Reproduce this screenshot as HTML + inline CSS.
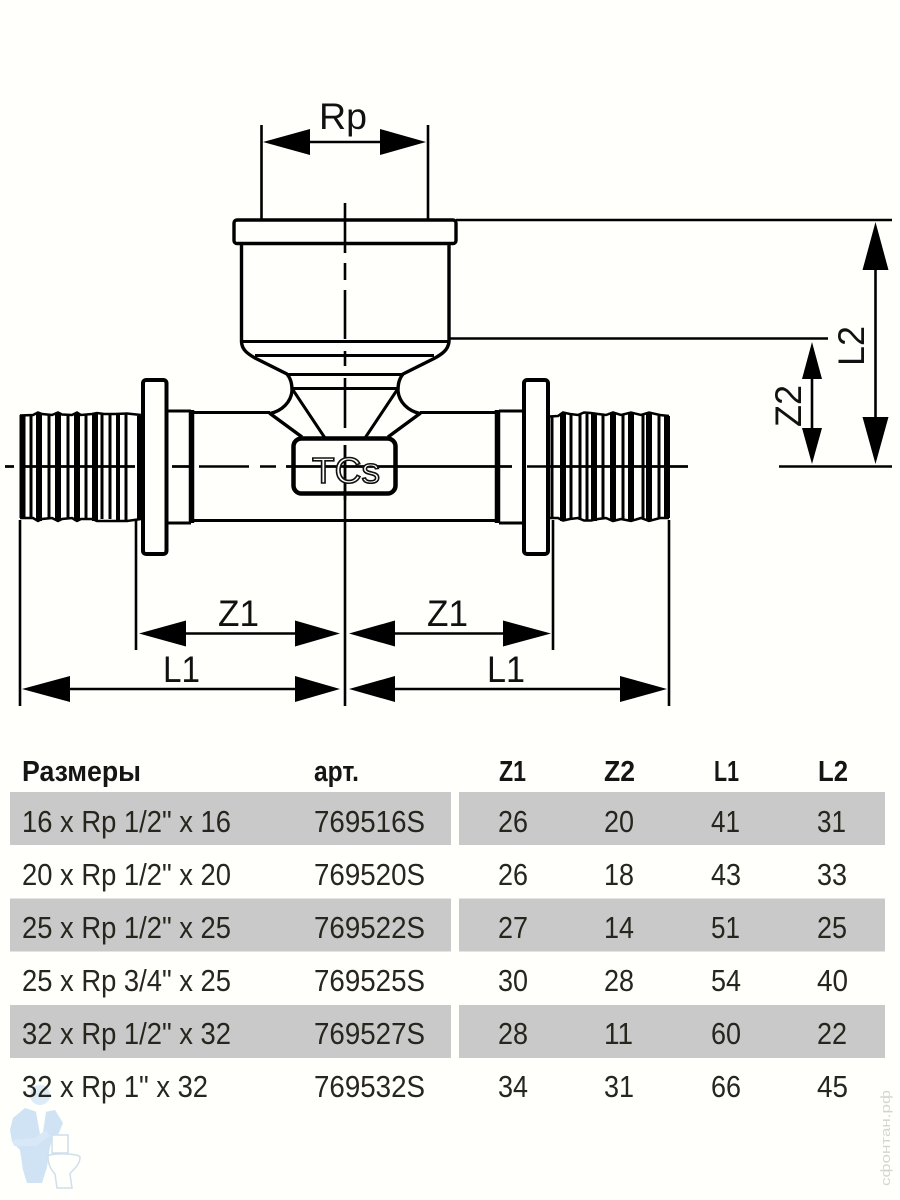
<!DOCTYPE html>
<html><head><meta charset="utf-8"><style>
html,body{margin:0;padding:0;background:#fffffc}
svg{display:block}
text{font-family:"Liberation Sans",sans-serif}
.d{font-size:37px;fill:#111}
.r{font-size:31px;fill:#26261e}
.h{font-size:29px;font-weight:bold;fill:#151515}
</style></head><body>
<svg width="900" height="1200" viewBox="0 0 900 1200" xmlns="http://www.w3.org/2000/svg">
<rect width="900" height="1200" fill="#fffffc"/>

<!-- centre lines -->
<g stroke="#000" stroke-width="2.6" fill="none">
<path d="M345 203V253M345 263V280M345 290V339M345 351V366M345 378V428M345 445V706"/>
<path d="M5 466.500H14M24 466.500H135M172 466.500H192M199 466.500H249M260 466.500H276M286 466.500H512M527 466.500H688"/>
</g>

<!-- top socket -->
<g stroke="#000" fill="none" stroke-linejoin="round">
<rect x="234" y="220" width="222" height="23.500" rx="3" stroke-width="3.400"/>
<path d="M241.500 244V342C242 350 248 354 255 358L287 374C291 379 292 384 292 391C291 402 282 411 270 413.500L302 437M449 244V342C448 350 442 354 435 358L403 374C399 379 398 384 398 391C399 402 408 411 420 413.500L388 437" stroke-width="3.400"/>
<path d="M241.500 341.500H449M255 355.500H434M287 374.500H404M293 388.500H397" stroke-width="3"/>
<path d="M293 390L325 438M397 390L365 438" stroke-width="3"/>
<!-- body -->
<path d="M193 412.500H270M420 412.500H497M193 520.500H497" stroke-width="3"/>
<path d="M191.500 410V523M497.500 410V523" stroke-width="5.500"/>
<!-- collars -->
<path d="M167 411H191M167 523H191M499 411H523M499 523H523" stroke-width="3"/>
<!-- flanges -->
<rect x="143" y="380" width="23.500" height="174" rx="3" stroke-width="4" fill="#fffffc"/>
<rect x="524" y="380" width="24" height="174" rx="3" stroke-width="4" fill="#fffffc"/>
<!-- TCs box -->
<rect x="293.500" y="438.500" width="102" height="55" rx="8" stroke-width="4.500" fill="none"/>
</g>
<path d="M5 466.500H14M24 466.500H135M172 466.500H192M286 466.500H512M527 466.500H688M345 445V500" stroke="#000" stroke-width="2.600" fill="none"/>
<text x="312" y="483" font-size="36" fill="#fffffc" stroke="#111" stroke-width="1.600" textLength="68" lengthAdjust="spacingAndGlyphs">TCs</text>

<!-- left threads -->
<g stroke="#000" fill="none">
<path d="M22.500 415V518" stroke-width="6"/>
<path d="M31 415V518M49 414V518M68 414V518M86 414V518M102 414V519M110 414V519M126 414V520" stroke-width="3"/>
<path d="M39 413V521M58 413V521M77 413V521M95 413V521" stroke-width="6"/>
<path d="M118 413V521" stroke-width="4"/>
<path d="M20 415.500L33 415L38 412.500L42 414L52 415L58 412.500L62 414.500L72 415L77 412.500L81 415L92 414L97 413L104 414H115L127 413.500L141 415M20 518H33L38 521L42 519L52 518L58 521L62 519L72 518L77 521L81 519L92 519L97 521H104L116 521H127L141 519" stroke-width="2.500"/>
<path d="M139 416V520" stroke-width="4"/>
<!-- right threads -->
<path d="M552 416V518M571 414V520M580 414V520M587 414V520M603 415V518M623 414V519M643 414V519M659 415V518" stroke-width="3"/>
<path d="M563 413V521M594 413V521M613 413V521M631 413V521M649 413V521M667 416V518" stroke-width="6"/>
<path d="M549 416.500L558 416L563 412.500L570 414L578 415L584 412.500L591 413L598 414L606 415L613 412.500L621 415L631 412.500L641 415L649 412.500L660 415L669 416M549 518H558L563 520.500L570 519L578 518L584 520.500H591L598 519L606 518L613 521L621 519L631 521L641 518L649 521L660 518H669" stroke-width="2.500"/>
</g>

<!-- dimension lines -->
<g stroke="#000" stroke-width="2.600" fill="none">
<path d="M261.500 125V220M428 125V220M310 142H380"/>
<path d="M456 220H892M449 338.500H828M779 466.500H892M875.500 270V417M812 379V428"/>
<path d="M20 520V706M136 520V650M553 520V650M669 520V706"/>
<path d="M186 633.500H295M395 633.500H503M70 689H295M395 689H620"/>
</g>
<g fill="#000">
<path d="M263 142L310 129V155ZM426 142L380 129V155Z"/>
<path d="M875.500 222L862.500 270H888.500ZM875.500 464L862.500 417H888.500Z"/>
<path d="M812 342L802 379H822ZM812 464L802 428H822Z"/>
<path d="M139 633.500L186 620.500V646.500ZM340 633.500L295 620.500V646.500ZM349 633.500L395 620.500V646.500ZM551 633.500L503 620.500V646.500Z"/>
<path d="M22 689L70 676V702ZM340 689L295 676V702ZM349 689L395 676V702ZM667 689L620 676V702Z"/>
</g>

<!-- dimension labels -->
<text class="d" x="319" y="129" textLength="48" lengthAdjust="spacingAndGlyphs">Rp</text>
<text class="d" x="218" y="626" textLength="41" lengthAdjust="spacingAndGlyphs">Z1</text>
<text class="d" x="427" y="626" textLength="41" lengthAdjust="spacingAndGlyphs">Z1</text>
<text class="d" x="163" y="682" textLength="37" lengthAdjust="spacingAndGlyphs">L1</text>
<text class="d" x="487" y="682" textLength="38" lengthAdjust="spacingAndGlyphs">L1</text>
<text class="d" transform="translate(864 366) rotate(-90)" textLength="40" lengthAdjust="spacingAndGlyphs">L2</text>
<text class="d" transform="translate(801 427) rotate(-90)" textLength="42" lengthAdjust="spacingAndGlyphs">Z2</text>

<!-- table bands -->
<g fill="#c9c9c9">
<rect x="10" y="792" width="441" height="53"/><rect x="459" y="792" width="426" height="53"/>
<rect x="10" y="898.500" width="441" height="53"/><rect x="459" y="898.500" width="426" height="53"/>
<rect x="10" y="1005" width="441" height="53"/><rect x="459" y="1005" width="426" height="53"/>
</g>

<!-- mascot -->
<g fill="#cfe3f4">
<circle cx="40" cy="1095" r="10" fill="#dcebf7"/>
<path d="M25 1108L40 1113L55 1110L63 1123L58 1135L52 1140L50 1147L47 1167L42 1183H27L23 1170L20 1150L12 1142L10 1130L13 1118Z"/>
<path d="M12 1140L34 1138L46 1130L50 1136L36 1146L14 1146Z" fill="#d9e8f6"/>
</g>
<path d="M36 1112L46 1112L43 1132L40 1134Z" fill="#fffffc"/>
<g fill="#fffffc" stroke="#cfdfec" stroke-width="1.500">
<path d="M52 1135H68L68 1153H52Z"/>
<path d="M48 1156C50 1153 78 1153 80 1157C80 1166 72 1170 70 1174L72 1188H57L55 1174C51 1170 48 1164 48 1156Z"/>
</g>

<!-- table header -->
<text class="h" x="22" y="781" textLength="119" lengthAdjust="spacingAndGlyphs">Размеры</text>
<text class="h" x="314" y="781" textLength="45" lengthAdjust="spacingAndGlyphs">арт.</text>
<text class="h" x="499" y="781" textLength="27" lengthAdjust="spacingAndGlyphs">Z1</text>
<text class="h" x="604" y="781" textLength="31" lengthAdjust="spacingAndGlyphs">Z2</text>
<text class="h" x="714" y="781" textLength="25" lengthAdjust="spacingAndGlyphs">L1</text>
<text class="h" x="818" y="781" textLength="30" lengthAdjust="spacingAndGlyphs">L2</text>

<!-- rows -->
<g>
<text class="r" x="22" y="832" textLength="209" lengthAdjust="spacingAndGlyphs">16 x Rp 1/2" x 16</text>
<text class="r" x="314" y="832" textLength="111" lengthAdjust="spacingAndGlyphs">769516S</text>
<text class="r" x="498" y="832" textLength="30" lengthAdjust="spacingAndGlyphs">26</text>
<text class="r" x="604" y="832" textLength="30" lengthAdjust="spacingAndGlyphs">20</text>
<text class="r" x="711" y="832" textLength="29" lengthAdjust="spacingAndGlyphs">41</text>
<text class="r" x="817" y="832" textLength="29" lengthAdjust="spacingAndGlyphs">31</text>

<text class="r" x="22" y="885" textLength="209" lengthAdjust="spacingAndGlyphs">20 x Rp 1/2" x 20</text>
<text class="r" x="314" y="885" textLength="111" lengthAdjust="spacingAndGlyphs">769520S</text>
<text class="r" x="498" y="885" textLength="30" lengthAdjust="spacingAndGlyphs">26</text>
<text class="r" x="604" y="885" textLength="30" lengthAdjust="spacingAndGlyphs">18</text>
<text class="r" x="711" y="885" textLength="30" lengthAdjust="spacingAndGlyphs">43</text>
<text class="r" x="817" y="885" textLength="30" lengthAdjust="spacingAndGlyphs">33</text>

<text class="r" x="22" y="938" textLength="209" lengthAdjust="spacingAndGlyphs">25 x Rp 1/2" x 25</text>
<text class="r" x="314" y="938" textLength="111" lengthAdjust="spacingAndGlyphs">769522S</text>
<text class="r" x="498" y="938" textLength="30" lengthAdjust="spacingAndGlyphs">27</text>
<text class="r" x="604" y="938" textLength="30" lengthAdjust="spacingAndGlyphs">14</text>
<text class="r" x="711" y="938" textLength="29" lengthAdjust="spacingAndGlyphs">51</text>
<text class="r" x="817" y="938" textLength="30" lengthAdjust="spacingAndGlyphs">25</text>

<text class="r" x="22" y="991" textLength="209" lengthAdjust="spacingAndGlyphs">25 x Rp 3/4" x 25</text>
<text class="r" x="314" y="991" textLength="111" lengthAdjust="spacingAndGlyphs">769525S</text>
<text class="r" x="498" y="991" textLength="30" lengthAdjust="spacingAndGlyphs">30</text>
<text class="r" x="604" y="991" textLength="30" lengthAdjust="spacingAndGlyphs">28</text>
<text class="r" x="711" y="991" textLength="30" lengthAdjust="spacingAndGlyphs">54</text>
<text class="r" x="817" y="991" textLength="31" lengthAdjust="spacingAndGlyphs">40</text>

<text class="r" x="22" y="1044" textLength="209" lengthAdjust="spacingAndGlyphs">32 x Rp 1/2" x 32</text>
<text class="r" x="314" y="1044" textLength="111" lengthAdjust="spacingAndGlyphs">769527S</text>
<text class="r" x="498" y="1044" textLength="30" lengthAdjust="spacingAndGlyphs">28</text>
<text class="r" x="604" y="1044" textLength="29" lengthAdjust="spacingAndGlyphs">11</text>
<text class="r" x="711" y="1044" textLength="30" lengthAdjust="spacingAndGlyphs">60</text>
<text class="r" x="817" y="1044" textLength="30" lengthAdjust="spacingAndGlyphs">22</text>

<text class="r" x="22" y="1097" textLength="186" lengthAdjust="spacingAndGlyphs">32 x Rp 1" x 32</text>
<text class="r" x="314" y="1097" textLength="111" lengthAdjust="spacingAndGlyphs">769532S</text>
<text class="r" x="498" y="1097" textLength="30" lengthAdjust="spacingAndGlyphs">34</text>
<text class="r" x="604" y="1097" textLength="30" lengthAdjust="spacingAndGlyphs">31</text>
<text class="r" x="711" y="1097" textLength="30" lengthAdjust="spacingAndGlyphs">66</text>
<text class="r" x="817" y="1097" textLength="31" lengthAdjust="spacingAndGlyphs">45</text>
</g>

<!-- watermark -->
<text transform="translate(890 1186) rotate(-90)" font-size="13" fill="#d4d4d4" textLength="96" lengthAdjust="spacingAndGlyphs">сфонтан.рф</text>
</svg>
</body></html>
